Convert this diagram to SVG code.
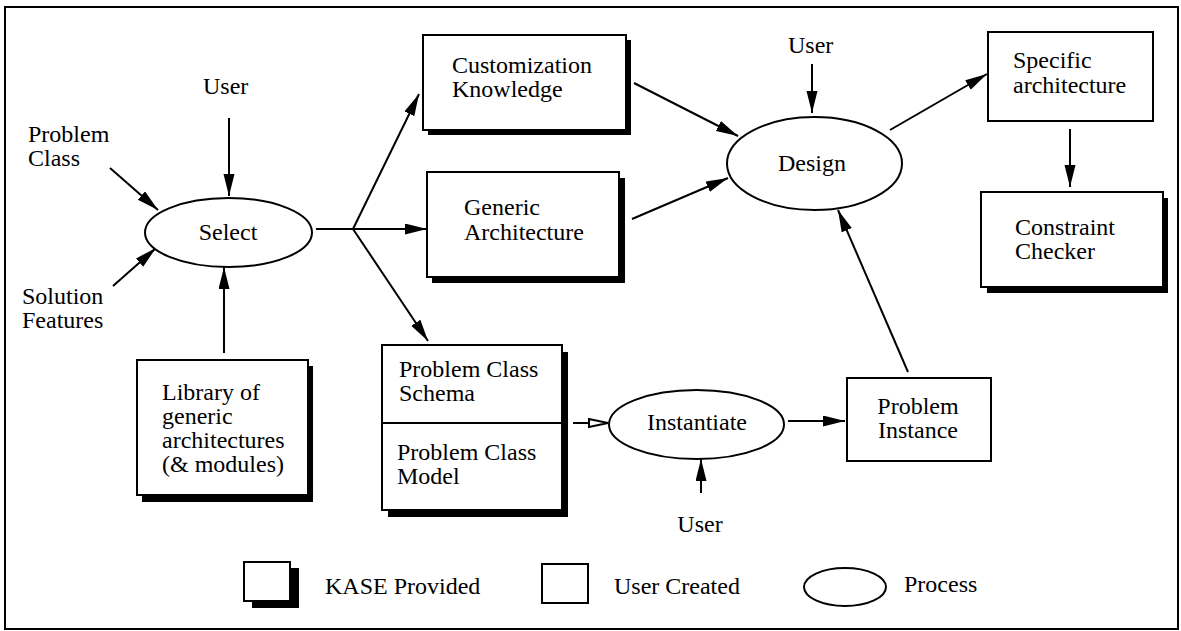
<svg xmlns="http://www.w3.org/2000/svg" width="1181" height="631" viewBox="0 0 1181 631" font-family="'Liberation Serif', 'DejaVu Serif', serif">
<style>
text{font-family:'Liberation Serif','DejaVu Serif',serif;font-size:24px;fill:#000}
.box{fill:#fff;stroke:#000;stroke-width:2}
.sh{fill:#000}
.ell{fill:#fff;stroke:#000;stroke-width:2}
.c{stroke:#000;stroke-width:2;fill:none}
.a{marker-end:url(#ah)}
.m{text-anchor:middle}
</style>
<defs>
<marker id="ah" markerUnits="userSpaceOnUse" markerWidth="24" markerHeight="12" refX="22" refY="5.5" orient="auto">
<path d="M0,0 L22,5.5 L0,11 z" fill="#000"/>
</marker>
<marker id="hh" markerUnits="userSpaceOnUse" markerWidth="24" markerHeight="12" refX="20" refY="5" orient="auto">
<path d="M1,1 L20,5 L1,9 z" fill="#fff" stroke="#000" stroke-width="2"/>
</marker>
</defs>
<rect x="5" y="7" width="1173" height="622" fill="#fff" stroke="#000" stroke-width="2"/>

<g id="connectors">
<line class="c a" x1="229" y1="118" x2="229" y2="196"/>
<line class="c a" x1="110" y1="168" x2="158" y2="210"/>
<line class="c a" x1="113" y1="286" x2="156" y2="248"/>
<line class="c a" x1="224" y1="353" x2="224" y2="267"/>
<line class="c" x1="316" y1="229" x2="353" y2="229"/>
<line class="c a" x1="353" y1="229" x2="419" y2="94"/>
<line class="c a" x1="353" y1="229" x2="427" y2="229"/>
<line class="c a" x1="353" y1="229" x2="428" y2="341"/>
<line class="c a" x1="634" y1="83" x2="738" y2="136"/>
<line class="c a" x1="632" y1="219" x2="728" y2="178"/>
<line class="c a" x1="812" y1="64" x2="812" y2="113"/>
<line class="c a" x1="890" y1="130" x2="987" y2="74"/>
<line class="c a" x1="1070" y1="129" x2="1070" y2="187"/>
<line class="c" x1="573" y1="423" x2="608" y2="423" marker-end="url(#hh)"/>
<line class="c a" x1="788" y1="421" x2="845" y2="421"/>
<line class="c a" x1="701" y1="493" x2="701" y2="459"/>
<line class="c a" x1="908" y1="372" x2="838" y2="210"/>
</g>

<g id="user-select"><text x="203" y="94">User</text></g>
<g id="problem-class"><text x="28" y="142">Problem</text><text x="28" y="166">Class</text></g>
<g id="solution-features"><text x="22" y="304">Solution</text><text x="22" y="328">Features</text></g>

<g id="select">
<ellipse class="ell" cx="228.5" cy="232.5" rx="83.5" ry="34.5"/>
<text class="m" x="228" y="240">Select</text>
</g>

<g id="library">
<rect class="sh" x="142" y="366" width="171" height="136"/>
<rect class="box" x="137" y="360" width="171" height="135"/>
<text x="162" y="400">Library of</text>
<text x="162" y="424">generic</text>
<text x="162" y="448">architectures</text>
<text x="162" y="472">(&amp; modules)</text>
</g>

<g id="customization">
<rect class="sh" x="428" y="40" width="203" height="95"/>
<rect class="box" x="423" y="35" width="203" height="95"/>
<text x="452" y="73">Customization</text>
<text x="452" y="97">Knowledge</text>
</g>

<g id="generic">
<rect class="sh" x="432" y="178" width="193" height="105"/>
<rect class="box" x="427" y="172" width="192" height="105"/>
<text x="464" y="215">Generic</text>
<text x="464" y="240">Architecture</text>
</g>

<g id="schema">
<rect class="sh" x="388" y="352" width="180" height="165"/>
<rect class="box" x="382" y="345" width="180" height="165"/>
<line class="c" x1="382" y1="423" x2="562" y2="423"/>
<text x="399" y="377">Problem Class</text>
<text x="399" y="401">Schema</text>
<text x="397" y="460">Problem Class</text>
<text x="397" y="484">Model</text>
</g>

<g id="instantiate">
<ellipse class="ell" cx="696.5" cy="424.5" rx="87.5" ry="34.5"/>
<text class="m" x="697" y="430">Instantiate</text>
</g>
<g id="user-instantiate"><text class="m" x="700" y="532">User</text></g>

<g id="problem-instance">
<rect class="box" x="847" y="378" width="144" height="83"/>
<text class="m" x="918" y="414">Problem</text>
<text class="m" x="918" y="438">Instance</text>
</g>

<g id="design">
<ellipse class="ell" cx="814.5" cy="163.5" rx="87.5" ry="46.5"/>
<text class="m" x="812" y="171">Design</text>
</g>
<g id="user-design"><text x="788" y="53">User</text></g>

<g id="specific">
<rect class="box" x="988" y="32" width="165" height="89"/>
<text x="1013" y="68">Specific</text>
<text x="1013" y="93">architecture</text>
</g>

<g id="constraint">
<rect class="sh" x="987" y="198" width="181" height="95"/>
<rect class="box" x="981" y="192" width="182" height="95"/>
<text x="1015" y="235">Constraint</text>
<text x="1015" y="259">Checker</text>
</g>

<g id="legend">
<rect class="sh" x="252" y="568" width="47" height="40"/>
<rect class="box" x="244" y="562" width="46" height="39"/>
<text x="325" y="594">KASE Provided</text>
<rect class="box" x="542" y="564" width="46" height="39"/>
<text x="614" y="594">User Created</text>
<ellipse class="ell" cx="845" cy="587" rx="41" ry="19"/>
<text x="904" y="592">Process</text>
</g>
</svg>
